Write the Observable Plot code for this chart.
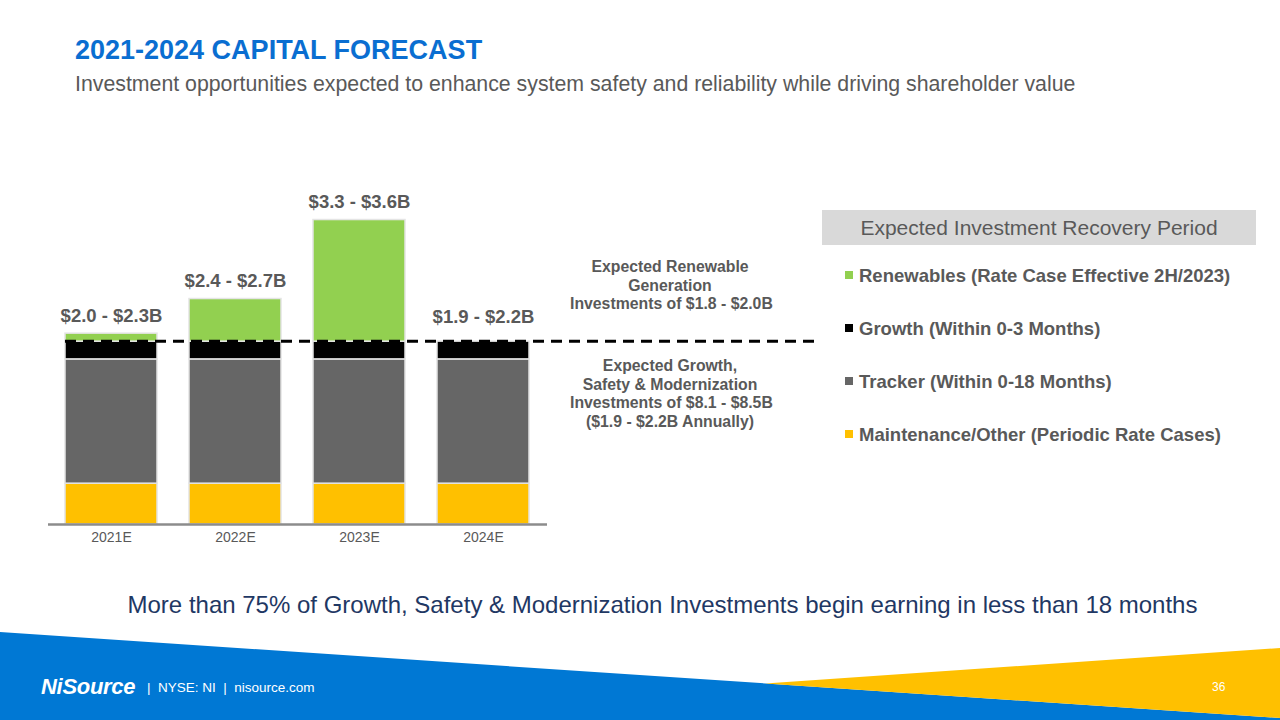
<!DOCTYPE html>
<html><head><meta charset="utf-8">
<script src="https://cdn.jsdelivr.net/npm/d3@7"></script>
<script src="https://cdn.jsdelivr.net/npm/@observablehq/plot@0.6"></script>
<style>
body{margin:0;}
#slide{position:relative;width:1280px;height:720px;overflow:hidden;background:#fff;font-family:"Liberation Sans",Arial,sans-serif;}
.abs{position:absolute;white-space:nowrap;line-height:1;}
#title{left:75px;top:37px;font-size:27px;font-weight:bold;color:#0a6ed1;}
#subtitle{left:75px;top:74px;font-size:21.3px;color:#595959;}
#chart{position:absolute;left:0;top:180px;}
.ann{position:absolute;left:570px;width:200px;text-align:center;font-size:15.8px;line-height:18.5px;font-weight:bold;color:#595959;white-space:nowrap;}
#lhead{position:absolute;left:822px;top:210px;width:434px;height:35px;background:#d9d9d9;color:#595959;font-size:21px;line-height:35px;text-align:center;}
.litem{position:absolute;left:845px;font-size:18.5px;font-weight:bold;color:#595959;line-height:1;white-space:nowrap;}
.litem span.sw{display:inline-block;width:8px;height:8px;margin-right:6px;vertical-align:middle;position:relative;top:-2px;}
#bottom{left:0;width:1325px;text-align:center;top:593px;font-size:24px;color:#1f3864;}
#footer{position:absolute;left:0;top:0;}
#logo{left:41px;top:676px;font-size:22px;font-weight:bold;font-style:italic;color:#fff;letter-spacing:-0.3px;}
#ftext{left:147px;top:681px;font-size:13.5px;color:#fff;}
#page{left:1212px;top:681px;font-size:12px;color:#fff;}
</style></head><body>
<div id="slide">
  <svg id="footer" width="1280" height="720">
    <polygon points="0,632 1280,718 1280,720 0,720" fill="#0078d4"/>
    <polygon points="765,683.4 1280,648 1280,718" fill="#ffc000"/>
  </svg>
  <div class="abs" id="title">2021-2024 CAPITAL FORECAST</div>
  <div class="abs" id="subtitle">Investment opportunities expected to enhance system safety and reliability while driving shareholder value</div>
  <div id="chart"></div>
  <div class="ann" style="top:258px">Expected Renewable<br>Generation<br>Investments of $1.8 - $2.0B</div>
  <div class="ann" style="top:357px">Expected Growth,<br>Safety &amp; Modernization<br>Investments of $8.1 - $8.5B<br>($1.9 - $2.2B Annually)</div>
  <div id="lhead">Expected Investment Recovery Period</div>
  <div id="legend"></div>
  <div class="abs" id="bottom">More than 75% of Growth, Safety &amp; Modernization Investments begin earning in less than 18 months</div>
  <div class="abs" id="logo">NiSource</div>
  <div class="abs" id="ftext">|&nbsp; NYSE: NI &nbsp;|&nbsp; nisource.com</div>
  <div class="abs" id="page">36</div>
</div>
<script>
const years = ["2021E", "2022E", "2023E", "2024E"];
const seriesNames = ["Maintenance/Other", "Tracker", "Growth", "Renewables"];
const seriesColors = ["#ffc000", "#666666", "#000000", "#92d050"];
const maintenance = [0.46, 0.46, 0.46, 0.46];
const tracker = [1.40, 1.40, 1.40, 1.40];
const growth = [0.20, 0.20, 0.20, 0.20];
const renewables = [0.09, 0.48, 1.37, 0];
const totalLabels = ["$2.0 - $2.3B", "$2.4 - $2.7B", "$3.3 - $3.6B", "$1.9 - $2.2B"];
const legendLabels = [
  "Renewables (Rate Case Effective 2H/2023)",
  "Growth (Within 0-3 Months)",
  "Tracker (Within 0-18 Months)",
  "Maintenance/Other (Periodic Rate Cases)"
];
const legendSeries = ["Renewables", "Growth", "Tracker", "Maintenance/Other"];

const seriesValues = {"Maintenance/Other": maintenance, "Tracker": tracker, "Growth": growth, "Renewables": renewables};
const rows = years.flatMap((y, i) => seriesNames.map(s => ({year: y, series: s, value: seriesValues[s][i]}))).filter(d => d.value > 0);
const totals = years.map((y, i) => ({year: y, total: maintenance[i] + tracker[i] + growth[i] + renewables[i], label: totalLabels[i], ren: renewables[i]}));
const baseTop = maintenance[0] + tracker[0] + growth[0];

const chart = Plot.plot({
  width: 820, height: 380,
  marginLeft: 48, marginRight: 273, marginTop: 20, marginBottom: 36,
  style: {fontFamily: '"Liberation Sans", Arial, sans-serif', fontSize: "14px", color: "#595959", background: "transparent", overflow: "visible"},
  x: {domain: years, paddingInner: 0.255, paddingOuter: 0.125, label: null, tickSize: 0, tickPadding: 8},
  y: {domain: [0, 3.65], axis: null},
  color: {domain: seriesNames, range: seriesColors},
  marks: [
    Plot.barY(rows, {x: "year", y: "value", fill: "series", z: "series", order: seriesNames, stroke: "#e4e4e4", strokeWidth: 1.5}),
    Plot.ruleY([0], {stroke: "#8c8c8c", strokeWidth: 2.5}),
    Plot.text(totals.filter(d => d.ren > 0), {x: "year", y: "total", text: "label", lineAnchor: "middle", dy: -18, fontSize: 18.5, fontWeight: "bold", fill: "#595959"}),
    Plot.text(totals.filter(d => d.ren === 0), {x: "year", y: "total", text: "label", lineAnchor: "middle", dy: -25, fontSize: 18.5, fontWeight: "bold", fill: "#595959"})
  ]
});

const xs = chart.scale("x"), ys = chart.scale("y");
d3.select(chart).append("line")
  .attr("x1", xs.apply(years[0]))
  .attr("x2", 818)
  .attr("y1", ys.apply(baseTop))
  .attr("y2", ys.apply(baseTop))
  .attr("stroke", "#000").attr("stroke-width", 3).attr("stroke-dasharray", "11,7");

document.getElementById("chart").appendChild(chart);

const legendTops = [276, 329, 382, 435];
const legend = document.getElementById("legend");
legendLabels.forEach((lab, i) => {
  const d = document.createElement("div");
  d.className = "litem";
  d.style.top = (legendTops[i] - 9) + "px";
  const col = seriesColors[seriesNames.indexOf(legendSeries[i])];
  d.innerHTML = `<span class="sw" style="background:${col}"></span>${lab}`;
  legend.appendChild(d);
});
</script>
</body></html>
